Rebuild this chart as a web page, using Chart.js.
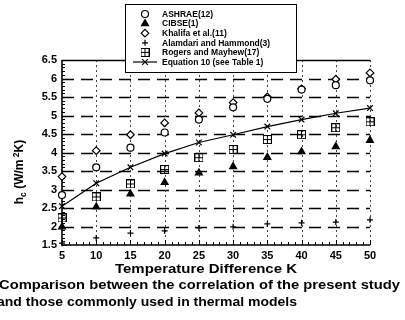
<!DOCTYPE html>
<html>
<head>
<meta charset="utf-8">
<script src="https://cdn.jsdelivr.net/npm/chart.js@4"></script>
<style>
  html, body { margin: 0; padding: 0; background: #fff; }
</style>
</head>
<body>
<canvas id="chart" width="405" height="320"></canvas>
<script>
// values - temperature difference (K) vs convective coefficient hc
const tempDiff = [5, 10, 15, 20, 25, 30, 35, 40, 45, 50];
const ashrae = [2.85, 3.6, 4.13, 4.54, 4.89, 5.22, 5.45, 5.7, 5.82, 5.95];
const cibse = [1.99, 2.53, 2.88, 3.19, 3.45, 3.62, 3.87, 4.02, 4.16, 4.33];
const khalifa = [3.35, 4.05, 4.48, 4.8, 5.07, 5.35, 5.5, 5.72, 5.98, 6.15];
const alamdari = [1.55, 1.69, 1.82, 1.88, 1.96, 1.99, 2.07, 2.1, 2.12, 2.18];
const rogers = [2.23, 2.8, 3.15, 3.54, 3.86, 4.08, 4.35, 4.48, 4.67, 4.83];
const equation10 = [2.55, 3.17, 3.6, 3.97, 4.27, 4.48, 4.7, 4.89, 5.06, 5.2];

const seriesNames = ['ASHRAE(12)', 'CIBSE(1)', 'Khalifa et al.(11)', 'Alamdari and Hammond(3)', 'Rogers and Mayhew(17)', 'Equation 10 (see Table 1)'];
const xTitle = 'Temperature Difference K';
const captionLines = ['Comparison between the correlation of the present study', 'and those commonly used in thermal models'];

const FONT = 'Arial, "Liberation Sans", Helvetica, sans-serif';

// square with a plus inside - there is no built in point style for this one
const boxPlus = (() => {
    const c = document.createElement('canvas');
    c.width = 9; c.height = 9;
    const g = c.getContext('2d');
    g.strokeStyle = '#000';
    g.lineWidth = 1;
    g.strokeRect(0.5, 0.5, 8, 8);
    g.beginPath();
    g.moveTo(4.5, 0.5); g.lineTo(4.5, 8.5);
    g.moveTo(0.5, 4.5); g.lineTo(8.5, 4.5);
    g.stroke();
    return c;
})();

const pts = (arr) => tempDiff.map((t, i) => ({ x: t, y: arr[i] }));

const styles = [
    { pointStyle: 'circle', radius: 3.5, fill: '#fff' },
    { pointStyle: 'triangle', radius: 4, fill: '#000' },
    { pointStyle: 'rectRot', radius: 3.8, fill: '#fff' },
    { pointStyle: 'cross', radius: 3, fill: '#000' },
    { pointStyle: boxPlus, radius: 4.5, fill: '#fff' },
    { pointStyle: 'crossRot', radius: 4, fill: '#000' },
];
const allSeries = [ashrae, cibse, khalifa, alamdari, rogers, equation10];

const datasets = allSeries.map((arr, i) => ({
    label: seriesNames[i],
    data: pts(arr),
    showLine: i === 5,
    borderColor: '#000',
    borderWidth: 1.2,
    backgroundColor: styles[i].fill,
    pointStyle: styles[i].pointStyle,
    pointRadius: styles[i].radius,
    pointBorderWidth: 1.2,
    pointBackgroundColor: styles[i].fill,
    pointBorderColor: '#000',
    tension: 0,
    clip: false,
}));

// grid, frame and minor ticks under the markers
const framePlugin = {
    id: 'frame',
    beforeDatasetsDraw(chart) {
        const { ctx, chartArea: a, scales: { x, y } } = chart;
        ctx.save();
        // dashed horizontals
        ctx.strokeStyle = '#000';
        ctx.lineWidth = 1.3;
        ctx.setLineDash([12, 7]);
        for (let v = 2; v <= 6; v += 0.5) {
            const py = Math.round(y.getPixelForValue(v)) + 0.5;
            ctx.beginPath(); ctx.moveTo(a.left, py); ctx.lineTo(a.right, py); ctx.stroke();
        }
        // dotted verticals
        ctx.strokeStyle = '#444';
        ctx.lineWidth = 1;
        ctx.setLineDash([2, 3]);
        for (let v = 10; v <= 50; v += 5) {
            const px = Math.round(x.getPixelForValue(v)) + 0.5;
            ctx.beginPath(); ctx.moveTo(px, a.top); ctx.lineTo(px, a.bottom); ctx.stroke();
        }
        ctx.setLineDash([]);
        ctx.strokeStyle = '#000';
        // top border
        ctx.lineWidth = 1.3;
        ctx.beginPath(); ctx.moveTo(a.left, a.top + 0.5); ctx.lineTo(a.right, a.top + 0.5); ctx.stroke();
        // left and bottom axes
        ctx.lineWidth = 1.6;
        ctx.beginPath();
        ctx.moveTo(a.left, a.top); ctx.lineTo(a.left, a.bottom); ctx.lineTo(a.right, a.bottom);
        ctx.stroke();
        // minor ticks
        ctx.lineWidth = 1;
        for (let k = 0; k <= 50; k++) {
            const py = Math.round(y.getPixelForValue(1.5 + k * 0.1)) + 0.5;
            const len = k % 5 === 0 ? 5 : 3;
            ctx.beginPath(); ctx.moveTo(a.left, py); ctx.lineTo(a.left + len, py); ctx.stroke();
        }
        for (let v = 5; v <= 50; v++) {
            const px = Math.round(x.getPixelForValue(v)) + 0.5;
            const len = v % 5 === 0 ? 5 : 3;
            ctx.beginPath(); ctx.moveTo(px, a.bottom); ctx.lineTo(px, a.bottom - len); ctx.stroke();
        }
        ctx.restore();
    }
};

// the scan is a bit wider than the font, so stretch text to the measured width
const stretchText = (ctx, text, x, y, targetW) => {
    const w = ctx.measureText(text).width;
    ctx.save();
    ctx.translate(x, y);
    ctx.scale(targetW / w, 1);
    ctx.fillText(text, 0, 0);
    ctx.restore();
};

// titles, caption and the boxed legend
const textPlugin = {
    id: 'texts',
    afterDraw(chart) {
        const ctx = chart.ctx;
        ctx.save();
        ctx.fillStyle = '#000';
        ctx.textBaseline = 'alphabetic';
        ctx.textAlign = 'left';

        ctx.font = 'bold 13px ' + FONT;
        stretchText(ctx, xTitle, 115, 273, 182);

        ctx.font = 'bold 13.5px ' + FONT;
        stretchText(ctx, captionLines[0], -1, 289, 401);
        stretchText(ctx, captionLines[1], -3, 306, 300);

        // y title h_c (W/m^2K), rotated
        ctx.translate(23, 172);
        ctx.rotate(-Math.PI / 2);
        const parts = [
            ['h', 12, 0], ['c', 8.5, 3], [' (W/m', 12, 0], [' 2', 8.5, -4.5], ['K)', 12, 0]
        ];
        let w = 0;
        parts.forEach(p => { ctx.font = 'bold ' + p[1] + 'px ' + FONT; w += ctx.measureText(p[0]).width; });
        let cx = -w / 2;
        parts.forEach(p => {
            ctx.font = 'bold ' + p[1] + 'px ' + FONT;
            ctx.fillText(p[0], cx, p[2]);
            cx += ctx.measureText(p[0]).width;
        });
        ctx.restore();

        // legend box
        ctx.save();
        ctx.fillStyle = '#fff';
        ctx.strokeStyle = '#000';
        ctx.lineWidth = 1;
        ctx.fillRect(125.5, 4.5, 171, 68);
        ctx.strokeRect(125.5, 4.5, 171, 68);
        const drawPoint = Chart.helpers && Chart.helpers.drawPoint;
        seriesNames.forEach((name, i) => {
            const ry = 14 + i * 9.6;
            ctx.strokeStyle = '#000';
            ctx.lineWidth = 1.2;
            if (i === 5) {
                ctx.beginPath(); ctx.moveTo(133, ry); ctx.lineTo(157, ry); ctx.stroke();
            }
            ctx.fillStyle = styles[i].fill;
            if (drawPoint) {
                drawPoint(ctx, { pointStyle: styles[i].pointStyle, radius: styles[i].radius, rotation: 0, borderWidth: 1.2 }, 145, ry);
            }
            ctx.fillStyle = '#000';
            ctx.font = 'bold 8.5px ' + FONT;
            ctx.textAlign = 'left';
            ctx.textBaseline = 'middle';
            ctx.fillText(name, 162, ry + 0.5);
        });
        ctx.restore();
    }
};

const tickFont = { family: FONT, size: 11, weight: 'bold' };

new Chart(document.getElementById('chart'), {
    type: 'scatter',
    data: { datasets },
    options: {
        responsive: false,
        animation: false,
        devicePixelRatio: 1,
        layout: { padding: { left: 0, right: 35, top: 60, bottom: 0 } },
        plugins: { legend: { display: false }, tooltip: { enabled: false }, title: { display: false } },
        scales: {
            x: {
                type: 'linear', min: 5, max: 50,
                afterFit: (s) => { s.height = 75; },
                ticks: { stepSize: 5, color: '#000', font: tickFont, padding: 4, maxRotation: 0 },
                grid: { display: false, drawTicks: false },
                border: { display: false },
            },
            y: {
                type: 'linear', min: 1.5, max: 6.5,
                afterFit: (s) => { s.width = 62; },
                ticks: { stepSize: 0.5, color: '#000', font: tickFont, padding: 5, callback: (v) => String(v) },
                grid: { display: false, drawTicks: false },
                border: { display: false },
            }
        }
    },
    plugins: [framePlugin, textPlugin]
});
</script>
</body>
</html>
